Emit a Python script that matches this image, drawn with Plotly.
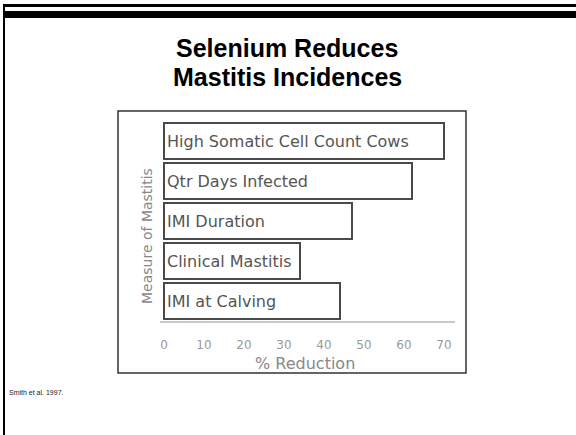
import plotly.graph_objects as go

# ---- data ----
categories = ["High Somatic Cell Count Cows", "Qtr Days Infected", "IMI Duration",
              "Clinical Mastitis", "IMI at Calving"]
reduction = [70, 62, 47, 34, 44]
tick_vals = [0, 10, 20, 30, 40, 50, 60, 70]
title_lines = ["Selenium Reduces", "Mastitis Incidences"]
x_title = "% Reduction"
y_title = "Measure of Mastitis"
source = "Smith et al. 1997."

# ---- layout geometry (pixels) ----
FW, FH = 576, 435
L, R, T, B = 160, 455, 121, 321
W, H = R - L, B - T
PPU = 4.0          # pixels per % unit
X0 = -1.0          # axis start

def px(x):
    return (x - L) / W

def py(y):
    return (B - y) / H

fig = go.Figure()
fig.add_trace(go.Bar(
    x=reduction, y=categories, orientation="h",
    marker=dict(color="white", line=dict(color="#4a4a4a", width=2)),
    text=categories, textposition="inside", insidetextanchor="start",
    textangle=0, constraintext="none",
    textfont=dict(family="DejaVu Sans", size=16, color="#555555"),
    hoverinfo="skip", width=0.9,
))

shapes = []
# chart box
shapes.append(dict(type="rect", xref="paper", yref="paper",
                   x0=px(118), x1=px(466), y0=py(373), y1=py(111),
                   line=dict(color="#333333", width=1.5), fillcolor="rgba(0,0,0,0)", layer="below"))
# slide frame
shapes.append(dict(type="rect", xref="paper", yref="paper",
                   x0=px(3), x1=px(576), y0=py(7), y1=py(4),
                   line=dict(width=0), fillcolor="black"))
shapes.append(dict(type="rect", xref="paper", yref="paper",
                   x0=px(3), x1=px(576), y0=py(18), y1=py(11),
                   line=dict(width=0), fillcolor="black"))
shapes.append(dict(type="rect", xref="paper", yref="paper",
                   x0=px(3), x1=px(5), y0=py(435), y1=py(4),
                   line=dict(width=0), fillcolor="black"))

annotations = [
    dict(text=title_lines[0], x=px(287), y=py(48), xref="paper", yref="paper",
         showarrow=False, xanchor="center", yanchor="middle",
         font=dict(family="Liberation Sans, Arial", size=25, color="black", weight="bold")),
    dict(text=title_lines[1], x=px(287), y=py(77), xref="paper", yref="paper",
         showarrow=False, xanchor="center", yanchor="middle",
         font=dict(family="Liberation Sans, Arial", size=25, color="black", weight="bold")),
    dict(text=x_title, x=px(305), y=py(363), xref="paper", yref="paper",
         showarrow=False, xanchor="center", yanchor="middle",
         font=dict(family="DejaVu Sans", size=16, color="#888888")),
    dict(text=y_title, x=px(147), y=py(236), xref="paper", yref="paper",
         showarrow=False, xanchor="center", yanchor="middle", textangle=-90,
         font=dict(family="DejaVu Sans", size=14, color="#888888")),
    dict(text=source, x=px(7), y=py(392), xref="paper", yref="paper",
         showarrow=False, xanchor="left", yanchor="middle",
         font=dict(family="Liberation Sans, Arial", size=7, color="#222222")),
]

fig.update_layout(
    width=FW, height=FH,
    margin=dict(l=L, r=FW - R, t=T, b=FH - B, pad=0),
    paper_bgcolor="white", plot_bgcolor="white",
    showlegend=False, bargap=0.1,
    shapes=shapes, annotations=annotations,
    xaxis=dict(range=[X0, X0 + W / PPU], tickmode="array", tickvals=tick_vals,
               showgrid=False, zeroline=False, showline=True,
               linecolor="#c8c8c8", linewidth=2,
               ticks="outside", ticklen=12, tickcolor="rgba(0,0,0,0)",
               tickfont=dict(family="DejaVu Sans", size=12, color="#999999")),
    yaxis=dict(categoryorder="array", categoryarray=categories[::-1],
               showticklabels=False, showgrid=False, zeroline=False, showline=False,
               ticks=""),
)

fig.write_html("out.html", config={"displayModeBar": False},
               post_script="document.body.style.margin='0';document.body.style.overflow='hidden';")
